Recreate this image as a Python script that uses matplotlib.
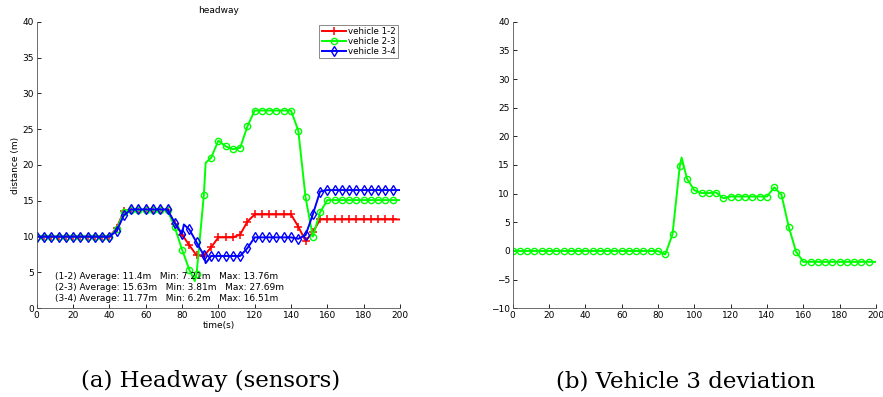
import numpy as np
import matplotlib
matplotlib.use('Agg')
import matplotlib.pyplot as plt

# headway data (sampled every 4 s, a few extra break points)
t_12 = list(range(0, 201, 4))
d_12 = [10.0] * 11 + [11.2, 13.6, 13.7, 13.7, 13.7, 13.7, 13.7, 13.7, 11.8, 10.3,
                      8.8, 7.4, 7.3, 8.5, 9.9, 9.9, 9.9, 10.3, 12.1, 13.1,
                      13.1, 13.1, 13.1, 13.1, 13.1, 11.4, 9.4, 10.6] + [12.4] * 12

t_23 = list(range(0, 85, 4)) + [87, 88, 92, 93] + list(range(96, 201, 4))
d_23 = [10.0] * 11 + [11.0, 13.5, 13.7, 13.7, 13.7, 13.7, 13.7, 13.7, 11.3, 8.2,
                      5.4, 3.8, 4.8, 15.8, 20.3, 21.0, 23.4, 22.6, 22.2, 22.4,
                      25.4, 27.6, 27.6, 27.6, 27.6, 27.6, 27.6, 24.8, 15.5, 10.0,
                      13.4] + [15.1] * 11

t_34 = list(range(0, 81, 4)) + [81, 84, 88, 92, 93] + list(range(96, 201, 4))
d_34 = [10.0] * 11 + [10.8, 13.0, 13.8, 13.8, 13.8, 13.8, 13.8, 13.8, 11.9, 10.4,
                      11.7, 11.0, 9.2, 7.4, 6.3, 7.3, 7.3, 7.3, 7.3, 7.3,
                      8.4, 9.9, 9.9, 9.9, 9.9, 9.9, 9.9, 9.7, 10.2, 13.1,
                      16.3] + [16.5] * 11

# vehicle 3 deviation
t_dev = list(range(0, 93, 4)) + [93] + list(range(96, 201, 4))
d_dev = [0.0] * 21 + [-0.6, 2.9, 14.8, 16.3, 12.6, 10.6, 10.1, 10.1, 10.2, 9.2,
                      9.5, 9.5, 9.5, 9.5, 9.5, 9.5, 11.1, 9.8, 4.2, -0.1] + [-1.9] * 11

stats = ['(1-2) Average: 11.4m   Min: 7.21m   Max: 13.76m',
         '(2-3) Average: 15.63m   Min: 3.81m   Max: 27.69m',
         '(3-4) Average: 11.77m   Min: 6.2m   Max: 16.51m']

captions = ['(a) Headway (sensors)', '(b) Vehicle 3 deviation']


def marker_idx(t):
    # markers only on the 4 s grid, not on the last point
    return [i for i, v in enumerate(t) if v % 4 == 0 and v < 200]


def style_axes(ax, ymin, ymax):
    ax.set_xlim(0, 200)
    ax.set_ylim(ymin, ymax)
    ax.set_xticks(range(0, 201, 20))
    ax.set_yticks(range(ymin, ymax + 1, 5))
    ax.tick_params(direction='in', labelsize=6.5, length=3, width=0.6, pad=2)
    for s in ['top', 'right']:
        ax.spines[s].set_visible(False)
    for s in ['left', 'bottom']:
        ax.spines[s].set_linewidth(0.6)
        ax.spines[s].set_color('#555555')


fig = plt.figure(figsize=(8.83, 3.97), dpi=100)
ax1 = fig.add_axes([0.0416, 0.2234, 0.4114, 0.722])
ax2 = fig.add_axes([0.5806, 0.2234, 0.4114, 0.722])

ax1.plot(t_12, d_12, color='#ff0000', lw=1.4, marker='+', ms=6, mew=1.1,
         markevery=marker_idx(t_12), label='vehicle 1-2')
ax1.plot(t_23, d_23, color='#00ff00', lw=1.4, marker='o', ms=4.5, mfc='none', mew=1.0,
         markevery=marker_idx(t_23), label='vehicle 2-3')
ax1.plot(t_34, d_34, color='#0000ff', lw=1.4, marker='d', ms=5, mfc='none', mew=1.0,
         markevery=marker_idx(t_34), label='vehicle 3-4')
style_axes(ax1, 0, 40)
ax1.set_title('headway', fontsize=6.5, pad=6)
ax1.set_xlabel('time(s)', fontsize=6.5, labelpad=1)
ax1.set_ylabel('distance (m)', fontsize=6.5, labelpad=2)
leg = ax1.legend(loc='upper right', fontsize=6.2, frameon=True, fancybox=False,
                 edgecolor='#555555', handlelength=2.8, handletextpad=0.3,
                 borderpad=0.25, borderaxespad=0, labelspacing=0.15,
                 bbox_to_anchor=(0.995, 0.99))
leg.get_frame().set_linewidth(0.6)

for k, s in enumerate(stats):
    ax1.text(10, 4.4 - 1.5 * k, s, fontsize=6.5, va='center', ha='left')

ax2.plot(t_dev, d_dev, color='#00ff00', lw=1.4, marker='o', ms=4.5, mfc='none', mew=1.0,
         markevery=marker_idx(t_dev))
style_axes(ax2, -10, 40)

fig.text(0.238, 0.025, captions[0], fontsize=16.5, family='DejaVu Serif', ha='center', va='baseline')
fig.text(0.776, 0.025, captions[1], fontsize=16.5, family='DejaVu Serif', ha='center', va='baseline')

fig.savefig('out.png', dpi=100)
